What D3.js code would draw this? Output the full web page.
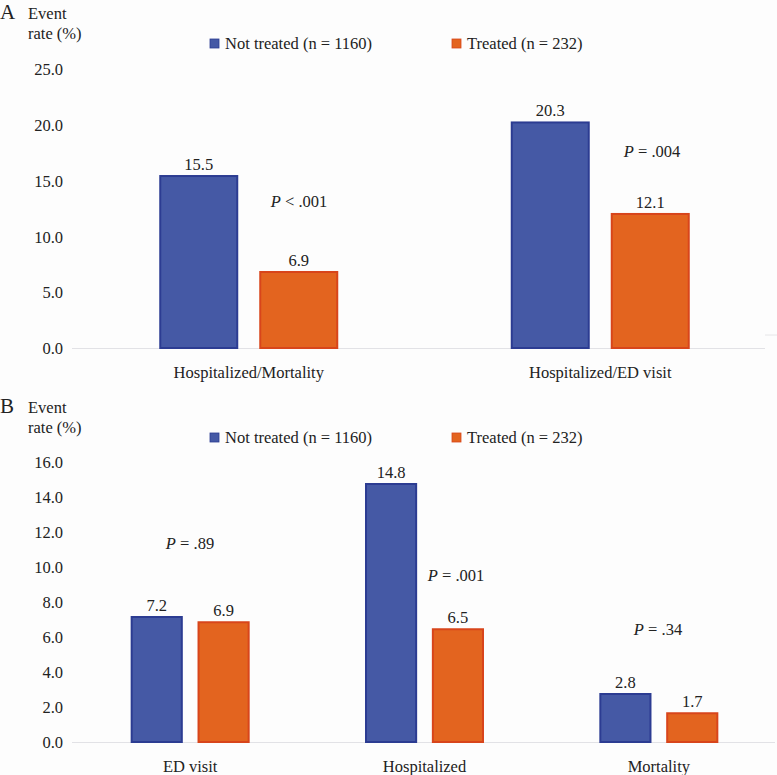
<!DOCTYPE html>
<html>
<head>
<meta charset="utf-8">
<script src="https://cdn.jsdelivr.net/npm/d3@7"></script>
<style>
  body { margin: 0; background: #fdfdfd; }
  svg { display: block; }
  svg text { font-family: "Liberation Serif", "Times New Roman", Tinos, "DejaVu Serif", "Noto Serif", serif !important; fill: #222; }
</style>
</head>
<body>
<svg id="chart" width="777" height="775"></svg>
<script>
// ---- Data ----
const seriesNames = ["Not treated (n = 1160)", "Treated (n = 232)"];

const categoriesA = ["Hospitalized/Mortality", "Hospitalized/ED visit"];
const notTreatedA = [15.5, 20.3];
const treatedA = [6.9, 12.1];
const pValuesA = ["< .001", "= .004"];
const ticksA = [0, 5, 10, 15, 20, 25];

const categoriesB = ["ED visit", "Hospitalized", "Mortality"];
const notTreatedB = [7.2, 14.8, 2.8];
const treatedB = [6.9, 6.5, 1.7];
const pValuesB = ["= .89", "= .001", "= .34"];
const ticksB = [0, 2, 4, 6, 8, 10, 12, 14, 16];

// ---- Styles ----
const fills = ["#4559a5", "#e3641f"];
const strokes = ["#2c3c92", "#d8451b"];
const FS = 16.5;

const svg = d3.select("#chart");

function panel(cfg) {
  const g = svg.append("g");
  const y = d3.scaleLinear().domain([0, cfg.yMax]).range([cfg.base, cfg.top]);
  const x = d3.scaleBand().domain(cfg.categories).range([73, 776]);

  // panel letter & y label
  g.append("text").attr("x", 0).attr("y", cfg.labelY).attr("font-size", 21).text(cfg.letter);
  g.append("text").attr("x", 28).attr("y", cfg.labelY).attr("font-size", FS).text("Event");
  g.append("text").attr("x", 28).attr("y", cfg.labelY + 20).attr("font-size", FS).text("rate (%)");

  // y tick labels
  const yAxis = d3.axisLeft(y).tickValues(cfg.ticks).tickFormat(d3.format(".1f")).tickSize(0).tickPadding(0);
  const ya = g.append("g").attr("transform", "translate(63,0)").call(yAxis);
  ya.attr("font-family", null).attr("font-size", null);
  ya.select(".domain").remove();
  ya.selectAll("text").attr("font-size", FS).attr("fill", "#222").attr("dy", "0.35em");

  // baseline
  g.append("line").attr("x1", 72).attr("x2", cfg.axisEnd)
    .attr("y1", cfg.base + 0.5).attr("y2", cfg.base + 0.5)
    .attr("stroke", "#e2e2e6").attr("stroke-width", 1.2);

  // legend
  const legX = [210, 452];
  seriesNames.forEach((s, i) => {
    g.append("rect").attr("x", legX[i]).attr("y", cfg.legendY - 5).attr("width", 9).attr("height", 9)
      .attr("fill", fills[i]).attr("stroke", strokes[i]).attr("stroke-width", 0.8);
    g.append("text").attr("x", legX[i] + 15).attr("y", cfg.legendY + 5).attr("font-size", FS).text(s);
  });

  // bars
  const inner = d3.scaleBand().domain([0, 1]).range([0, cfg.groupW]).paddingInner(cfg.innerPad);
  cfg.categories.forEach((c, ci) => {
    const cx = x(c) + x.bandwidth() / 2;
    const gx = cx - cfg.groupW / 2;
    [cfg.s0[ci], cfg.s1[ci]].forEach((v, si) => {
      const bx = gx + inner(si);
      g.append("rect")
        .attr("x", bx + 1).attr("y", y(v) + 1)
        .attr("width", inner.bandwidth() - 2).attr("height", y(0) - y(v) - 1)
        .attr("fill", fills[si]).attr("stroke", strokes[si]).attr("stroke-width", 2);
      g.append("text").attr("x", bx + inner.bandwidth() / 2).attr("y", y(v) - 5)
        .attr("text-anchor", "middle").attr("font-size", FS).text(v.toFixed(1));
    });
    // category label
    g.append("text").attr("x", cx).attr("y", cfg.base + 30).attr("text-anchor", "middle")
      .attr("font-size", FS).text(c);
    // p value
    const pt = g.append("text").attr("x", cfg.pX[ci]).attr("y", y(cfg.pY[ci]) + 5)
      .attr("text-anchor", "middle").attr("font-size", FS);
    pt.append("tspan").attr("font-style", "italic").text("P");
    pt.append("tspan").text(" " + cfg.pv[ci]);
  });
}

panel({
  letter: "A", labelY: 19, legendY: 44, base: 348, top: 69, yMax: 25, ticks: ticksA,
  categories: categoriesA, s0: notTreatedA, s1: treatedA, pv: pValuesA,
  groupW: 179, innerPad: 0.21, axisEnd: 765,
  pX: [299, 652], pY: [13.1, 17.6]
});

panel({
  letter: "B", labelY: 413, legendY: 438, base: 742, top: 462, yMax: 16, ticks: ticksB,
  categories: categoriesB, s0: notTreatedB, s1: treatedB, pv: pValuesB,
  groupW: 119, innerPad: 0.22, axisEnd: 775,
  pX: [190, 456, 658], pY: [11.3, 9.5, 6.4]
});

// small stray mark at right of panel A
svg.append("line").attr("x1", 765).attr("x2", 777).attr("y1", 335).attr("y2", 335)
  .attr("stroke", "#e6e6e8").attr("stroke-width", 1);
</script>
</body>
</html>
